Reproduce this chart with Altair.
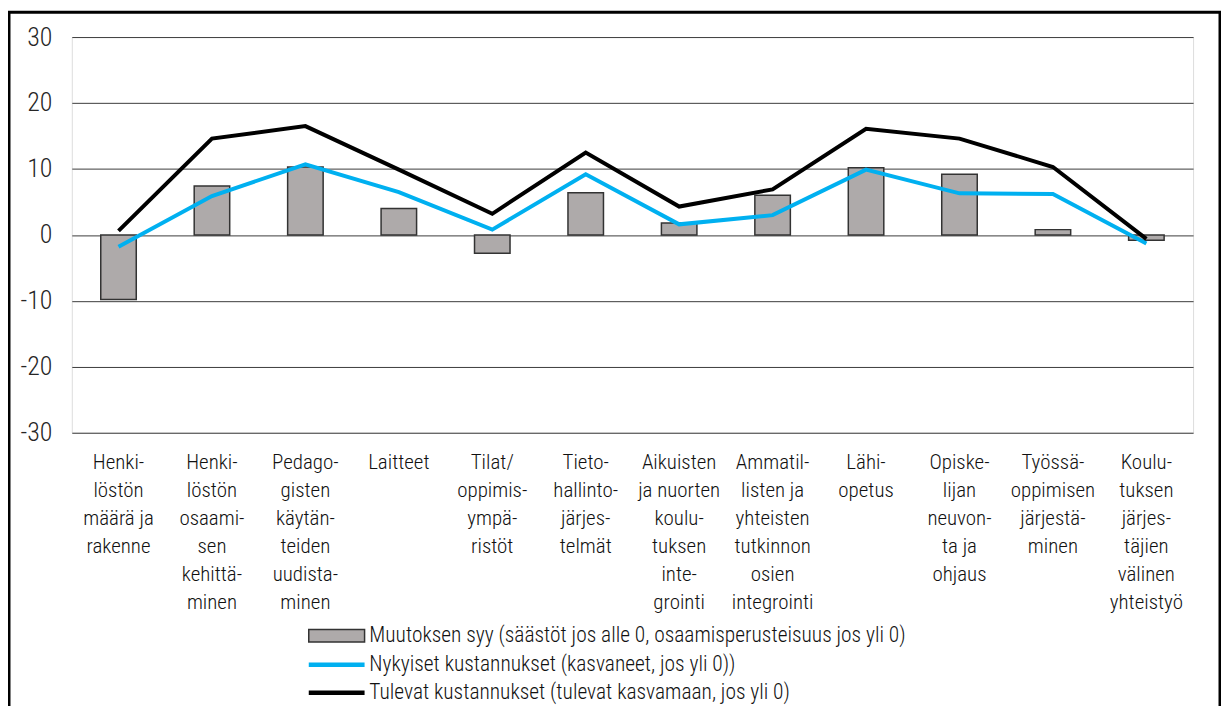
import altair as alt
import pandas as pd

# ---- data ----
categories = [
    "Henki-|löstön|määrä ja|rakenne",
    "Henki-|löstön|osaami-|sen|kehittä-|minen",
    "Pedago-|gisten|käytän-|teiden|uudista-|minen",
    "Laitteet",
    "Tilat/|oppimis-|ympä-|ristöt",
    "Tieto-|hallinto-|järjes-|telmät",
    "Aikuisten|ja nuorten|koulu-|tuksen|inte-|grointi",
    "Ammatil-|listen ja|yhteisten|tutkinnon|osien|integrointi",
    "Lähi-|opetus",
    "Opiske-|lijan|neuvon-|ta ja|ohjaus",
    "Työssä-|oppimisen|järjestä-|minen",
    "Koulu-|tuksen|järjes-|täjien|välinen|yhteistyö",
]
bar_values = [-9.8, 7.4, 10.3, 4.0, -2.8, 6.4, 1.8, 6.0, 10.2, 9.2, 0.8, -0.8]
current_costs = [-1.8, 5.9, 10.7, 6.5, 0.8, 9.2, 1.6, 3.0, 9.9, 6.3, 6.2, -1.3]
future_costs = [0.6, 14.6, 16.5, 9.9, 3.2, 12.5, 4.3, 6.9, 16.1, 14.6, 10.3, -0.6]

bar_series = ["Muutoksen syy (säästöt jos alle 0, osaamisperusteisuus jos yli 0)"]
line_series = [
    "Nykyiset kustannukset (kasvaneet, jos yli 0))",
    "Tulevat kustannukset (tulevat kasvamaan, jos yli 0)",
]
bar_colors = ["#AEAAAA"]
line_colors = ["#00B0F0", "#000000"]
y_ticks = [-30, -20, -10, 0, 10, 20, 30]

FONT = "Liberation Sans Narrow, Arial Narrow, Roboto Condensed, DejaVu Sans Condensed, sans-serif"
WEIGHT = 300

bars_df = pd.DataFrame({"cat": categories, "value": bar_values, "series": bar_series[0]})
lines_df = pd.concat([
    pd.DataFrame({"cat": categories, "value": current_costs, "series": line_series[0]}),
    pd.DataFrame({"cat": categories, "value": future_costs, "series": line_series[1]}),
])

legend_common = dict(
    title=None,
    orient="none",
    direction="vertical",
    symbolSize=196,
    labelOffset=22,
    labelFontSize=21.5,
    labelFont=FONT,
    labelFontWeight=WEIGHT,
    labelColor="#111111",
    labelLimit=2000,
    rowPadding=5,
    padding=0,
)

fill_enc = alt.Fill(
    "series:N",
    scale=alt.Scale(domain=bar_series, range=bar_colors),
    legend=alt.Legend(
        legendX=255, legendY=590,
        symbolType="M-4,-0.9H4V0.9H-4Z",
        symbolStrokeColor="#333333",
        symbolStrokeWidth=1.5,
        symbolOpacity=1,
        **legend_common,
    ),
)
stroke_enc = alt.Stroke(
    "series:N",
    scale=alt.Scale(domain=line_series, range=line_colors),
    legend=alt.Legend(
        legendX=255, legendY=619,
        symbolType="M-4,0H4",
        symbolStrokeWidth=4.5,
        symbolOpacity=1,
        **legend_common,
    ),
)

x_enc = alt.X(
    "cat:N",
    sort=categories,
    scale=alt.Scale(paddingInner=0.62, paddingOuter=0.31),
    axis=alt.Axis(
        title=None,
        labelAngle=0,
        labelExpr="split(datum.label, '|')",
        labelBaseline="top",
        labelAlign="center",
        labelLineHeight=28,
        labelFontSize=21,
        labelFont=FONT,
        labelFontWeight=WEIGHT,
        labelColor="#111111",
        labelPadding=19,
        ticks=False,
        domain=False,
        grid=False,
    ),
)
y_enc = alt.Y(
    "value:Q",
    scale=alt.Scale(domain=[-30, 30], nice=False, zero=False),
    axis=alt.Axis(
        title=None,
        values=y_ticks,
        labelExpr="toString(datum.value)",
        grid=True,
        gridColor="#3c3c3c",
        gridWidth=1,
        ticks=False,
        domain=False,
        labelPadding=20,
        labelFontSize=26,
        labelFont=FONT,
        labelFontWeight=WEIGHT,
        labelColor="#262626",
    ),
)

bars = alt.Chart(bars_df).mark_bar(stroke="#333333", strokeWidth=1.5).encode(
    x=x_enc, y=y_enc, fill=fill_enc
)
lines = alt.Chart(lines_df).mark_line(strokeWidth=4).encode(
    x=x_enc, y=y_enc, stroke=stroke_enc
)

frame = alt.Chart(pd.DataFrame({"f": [0]})).mark_rect(
    filled=False, stroke="#000000", strokeWidth=3
).encode(
    x=alt.value(-63), x2=alt.value(1152), y=alt.value(-25), y2=alt.value(720)
)

chart = alt.layer(bars, lines, frame).properties(
    width=1125,
    height=397,
    autosize=alt.AutoSizeParams(type="none"),
    padding={"left": 64, "top": 28, "right": 28, "bottom": 273},
).resolve_scale(
    fill="independent", stroke="independent"
).configure_view(
    stroke="#3c3c3c", strokeWidth=1
).configure(background="white")

chart.save("out.html", embed_options={"renderer": "svg", "actions": False})
